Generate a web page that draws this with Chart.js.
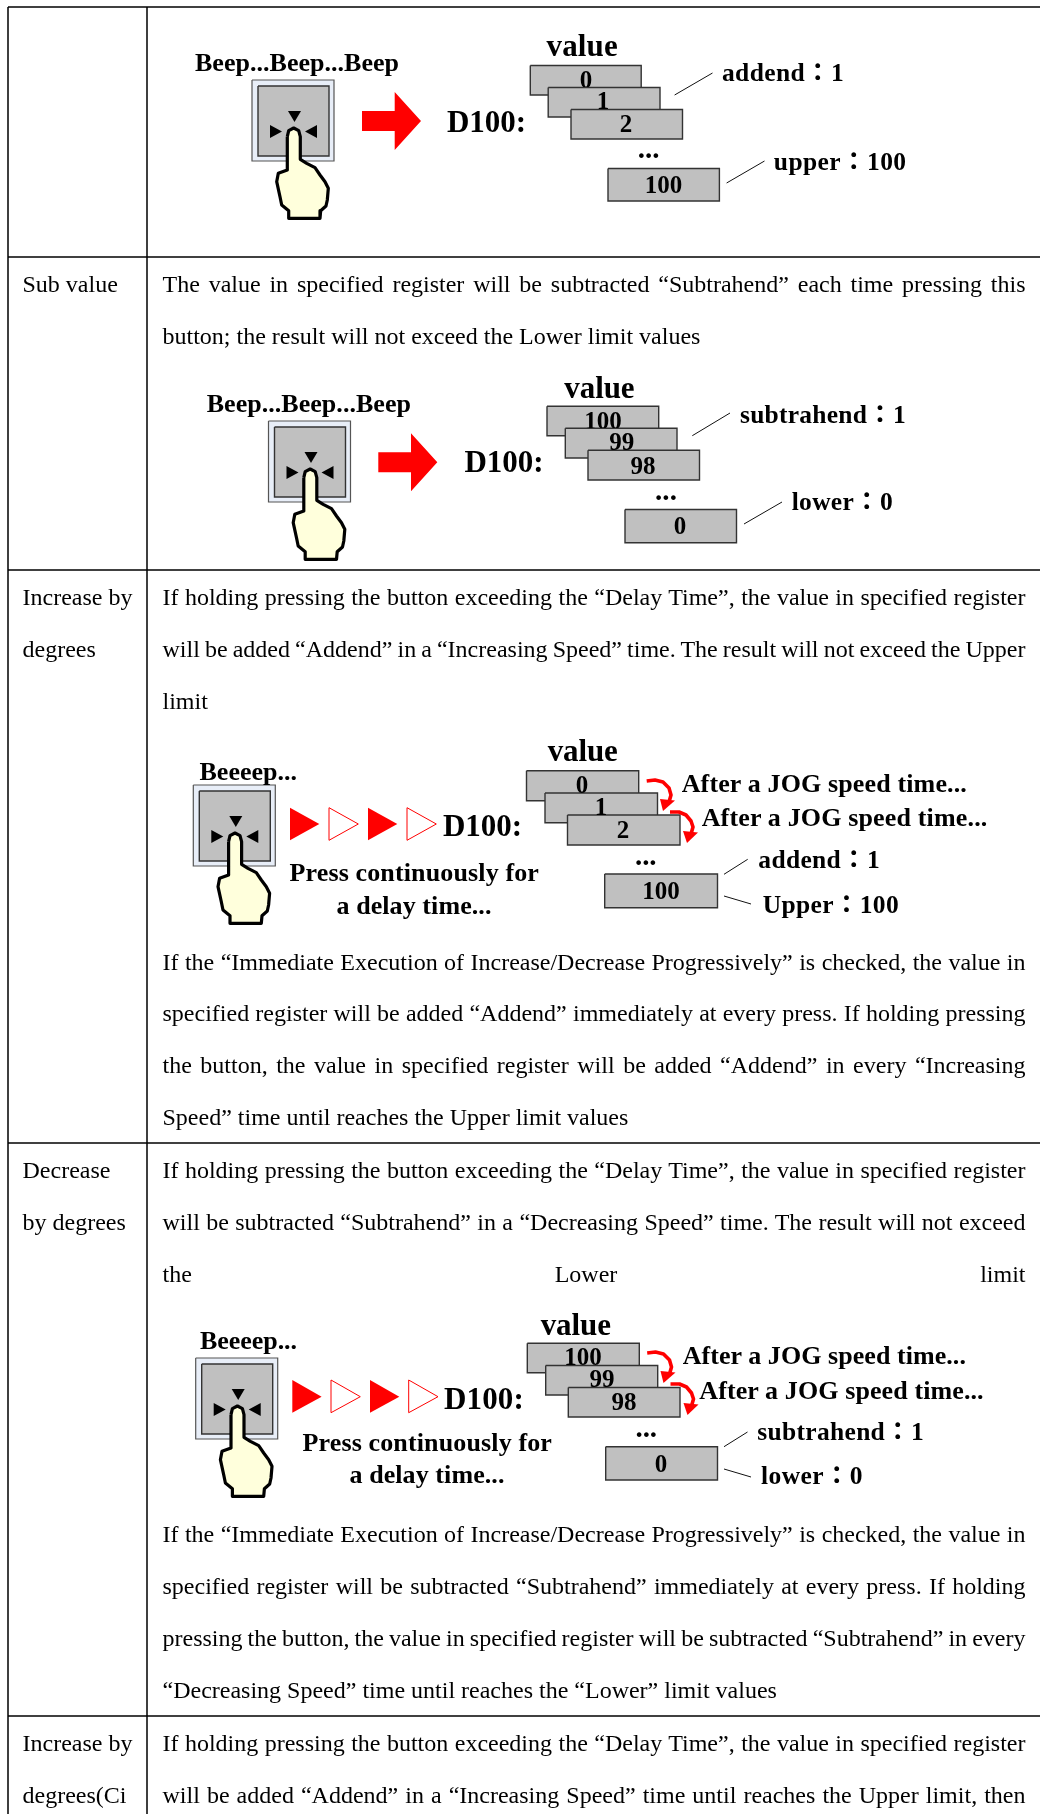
<!DOCTYPE html>
<html>
<head>
<meta charset="utf-8">
<title>Button table</title>
<script src="https://cdn.jsdelivr.net/npm/chart.js@4"></script>
<style>
  html, body { margin: 0; background: #fff; overflow: hidden; }
  #page { position: relative; width: 1040px; height: 1814px; }
  #sheet { position: absolute; left: 0; top: 0; }
  .t { position: absolute; white-space: nowrap; color: #000; font-family: "Liberation Serif", "Noto Sans CJK TC", serif; }
  .b { font-weight: bold; color: #000; }
</style>
</head>
<body>
<div id="page"><canvas id="sheet" width="1040" height="1814"></canvas></div>
<script>
// text of the table
const rowLabels = ["Sub value", "Increase by", "degrees", "Decrease", "by degrees", "Increase by", "degrees(Ci"];
const bodyLines = [
  "The value in specified register will be subtracted “Subtrahend” each time pressing this",
  "button; the result will not exceed the Lower limit values",
  "If holding pressing the button exceeding the “Delay Time”, the value in specified register",
  "will be added “Addend” in a “Increasing Speed” time. The result will not exceed the Upper",
  "limit",
  "If the “Immediate Execution of Increase/Decrease Progressively” is checked, the value in",
  "specified register will be added “Addend” immediately at every press. If holding pressing",
  "the button, the value in specified register will be added “Addend” in every “Increasing",
  "Speed” time until reaches the Upper limit values",
  "If holding pressing the button exceeding the “Delay Time”, the value in specified register",
  "will be subtracted “Subtrahend” in a “Decreasing Speed” time. The result will not exceed",
  "the Lower limit",
  "If the “Immediate Execution of Increase/Decrease Progressively” is checked, the value in",
  "specified register will be subtracted “Subtrahend” immediately at every press. If holding",
  "pressing the button, the value in specified register will be subtracted “Subtrahend” in every",
  "“Decreasing Speed” time until reaches the “Lower” limit values",
  "If holding pressing the button exceeding the “Delay Time”, the value in specified register",
  "will be added “Addend” in a “Increasing Speed” time until reaches the Upper limit, then"
];
const unjustified = [1, 4, 8, 15];
const addValues = ["0", "1", "2", "100"];
const subValues = ["100", "99", "98", "0"];

// positions on the page, in the units of the chart scales
const tableTop = 7;
const columnEdges = [8, 147];
const rowEdges = [7, 257, 570, 1143, 1716];
const labelY = [285, 597.7, 649.7, 1170.2, 1222.2, 1743.7, 1795.7];
const bodyY = [285, 337, 597.7, 649.7, 701.7, 963, 1014, 1065.7, 1118, 1170.2, 1222.2, 1274.2, 1534.7, 1586.7, 1638.7, 1690.7, 1743.7, 1795.7];

const handOutline = [[35.3,56.7],[36.7,50.7],[41.7,48],[46.7,50.7],[48.3,56.7],[48.3,79.3],[54.7,83.3],[63,87.7],[68,95],[73,101.7],[76.3,108.3],[75.3,120],[74,126],[68.7,130.7],[68,138.3],[36.7,138.3],[36.7,130.7],[29.7,125],[28,116.7],[24.7,101.7],[26.3,93.3],[35.3,90]];

const datasets = [];
const textLayer = document.getElementById("page");

function shape(points, fill, stroke, width, join) {
  const closed = !!fill;
  const pts = points.map(p => ({ x: p[0], y: p[1] }));
  if (closed) pts.push(pts[0]);
  datasets.push({
    data: pts,
    showLine: true,
    pointRadius: 0,
    fill: closed ? "shape" : false,
    backgroundColor: fill || "transparent",
    borderColor: stroke || fill || "transparent",
    borderWidth: stroke ? width : 0,
    borderJoinStyle: join || "miter",
    tension: 0
  });
}
const rect = (x0, y0, x1, y1, fill, stroke, width) =>
  shape([[x0,y0],[x1,y0],[x1,y1],[x0,y1]], fill, stroke, width);
const line = (x0, y0, x1, y1, width) => shape([[x0,y0],[x1,y1]], null, "#111", width || 1);

function label(str, x, y, size, opts) {
  opts = opts || {};
  y += opts.plain ? -0.6 : 0.7;
  const el = document.createElement("div");
  el.className = "t" + (opts.plain ? "" : " b");
  el.textContent = str;
  el.style.fontSize = size + "px";
  el.style.lineHeight = "40px";
  el.style.top = (y - 20) + "px";
  textLayer.appendChild(el);
  const w = el.getBoundingClientRect().width;
  if (opts.to) {
    el.style.letterSpacing = ((opts.to - x - w) / str.length) + "px";
    el.style.left = x + "px";
  } else if (opts.center) {
    el.style.left = (x - w / 2) + "px";
  } else {
    el.style.left = x + "px";
  }
  if (opts.clipAt) el.style.clipPath = "inset(0 -5px " + (y + 20 - opts.clipAt) + "px -5px)";
  return el;
}

function pressButton(ox, oy) {
  rect(ox, oy, ox + 82, oy + 81, "#e8eef8", "#555", 1.2);
  rect(ox + 6, oy + 6, ox + 77, oy + 76, "#c0c0c0", "#333", 1.4);
  shape([[ox+36,oy+31],[ox+49,oy+31],[ox+42.5,oy+42]], "#000");
  shape([[ox+18,oy+45],[ox+18,oy+58],[ox+30,oy+51.5]], "#000");
  shape([[ox+65,oy+45],[ox+65,oy+58],[ox+53,oy+51.5]], "#000");
  shape(handOutline.map(p => [ox + p[0], oy + p[1]]), "#ffffdc", "#000", 3.2, "round");
}

// boxes: [x0, y0, x1, y1] in paint order, digits: [cx, cy, clip]
function registerStack(values, boxes, digits) {
  boxes.forEach(b => rect(b[0], b[1], b[2], b[3], "#c0c0c0", "#333", 1.4));
  values.forEach((v, i) => label(v, digits[i][0], digits[i][1], 25, { center: true, clipAt: digits[i][2] }));
}

function jogArrows(dx, dy) {
  const a = [[646.7,781],[655,780],[663,782],[669,788],[671,795],[669,802]];
  const h = [[660,799],[675,800.5],[663,811]];
  const b = [[670,812],[679,812],[686,815],[691,821],[693,827],[691,834]];
  const k = [[683,831],[698,832.5],[687,843]];
  [a, b].forEach(s => shape(s.map(p => [p[0]+dx, p[1]+dy]), null, "#ff0000", 3.6, "round"));
  [h, k].forEach(s => shape(s.map(p => [p[0]+dx, p[1]+dy]), "#ff0000"));
}

function blinkArrows(xs, y0, ym, y1) {
  xs.forEach((x, i) => {
    const pts = [[x, y0], [x + 29.3, ym], [x, y1]];
    if (i % 2 === 0) shape(pts, "#ff0000");
    else shape(pts, "#ffffff", "#ff0000", 1);
  });
}

function bigArrow(dx, dy) {
  shape([[362,111],[394.7,111],[394.7,92],[421,121],[394.7,150],[394.7,131],[362,131]].map(p => [p[0]+dx, p[1]+dy]), "#ff0000");
}

// table rules
columnEdges.forEach(x => shape([[x, tableTop], [x, 1814]], null, "#000", 1.5));
rowEdges.forEach(y => shape([[columnEdges[0], y], [1040, y]], null, "#000", 1.5));

// row 1: add value
label("Beep...Beep...Beep", 195, 62, 26, { to: 399 });
pressButton(252, 80);
bigArrow(0, 0);
label("D100:", 447, 121, 31, { to: 526 });
label("value", 546.5, 45, 31, { to: 617.8 });
registerStack(addValues,
  [[530.3,65.5,641.2,95],[548.2,87.5,660,117],[571,109.5,682.5,139],[608,168.5,719.4,201]],
  [[586,79,87],[603,100,109],[626,123],[663.6,184]]);
label("...", 637.7, 147, 29, { to: 659.5 });
label("addend：1", 722, 72, 25.5, { to: 844 });
label("upper：100", 773.8, 161, 25.5, { to: 906.5 });
line(674.6, 95, 712.5, 73);
line(726.6, 183, 764.5, 161);

// row 2: sub value
label("Beep...Beep...Beep", 206.7, 403, 26, { to: 411 });
pressButton(268.5, 421);
bigArrow(16.3, 341.3);
label("D100:", 464.5, 461.7, 31, { to: 543.5 });
label("value", 564.3, 387, 31, { to: 634.5 });
registerStack(subValues,
  [[547,406.3,658.7,435.7],[565.3,428.3,677,458],[588,450.3,699.5,480],[625,509.5,736.5,542.7]],
  [[603,420,428],[621.7,441,450],[643,465],[680,525]]);
label("...", 655, 489, 29, { to: 677 });
label("subtrahend：1", 740, 414, 25.5, { to: 906 });
label("lower：0", 791.7, 501.7, 25.5, { to: 893 });
line(692.3, 435.7, 730, 413);
line(744, 524, 782, 502);

// row 3: increase by degrees
label("Beeeep...", 199.5, 771.6, 26, { to: 297 });
pressButton(193.3, 785);
blinkArrows([290, 329, 368, 407], 807.7, 824, 840.3);
label("D100:", 443, 825, 31, { to: 522 });
label("Press continuously for", 289.5, 872.7, 26, { to: 539 });
label("a delay time...", 336.5, 905, 26, { to: 491.5 });
label("value", 547.7, 750.7, 31, { to: 617.7 });
registerStack(addValues,
  [[526.5,770.7,638.7,800.7],[545,793,657.5,822.7],[567.5,815,680,845],[604.7,874,717.5,907.7]],
  [[582,784,793],[601,806,815],[623,829],[661,890.7]]);
jogArrows(0, 0);
label("...", 635, 854, 29, { to: 656.5 });
label("After a JOG speed time...", 681.7, 783, 26, { to: 967 });
label("After a JOG speed time...", 701.7, 817, 26, { to: 987.5 });
label("addend：1", 758.3, 859.3, 25.5, { to: 880 });
label("Upper：100", 762.7, 904, 25.5, { to: 899 });
line(724, 874.3, 747.7, 859.3);
line(724, 896, 751, 904);

// row 4: decrease by degrees
label("Beeeep...", 200, 1340, 26, { to: 297 });
pressButton(195.7, 1358);
blinkArrows([292.3, 331, 370, 408.7], 1380, 1396.7, 1412.7);
label("D100:", 444, 1398.6, 31, { to: 524 });
label("Press continuously for", 302.5, 1442.6, 26, { to: 552 });
label("a delay time...", 349.5, 1474, 26, { to: 504.5 });
label("value", 540.7, 1324, 31, { to: 611 });
registerStack(subValues,
  [[527.3,1343.3,639.3,1372.7],[545.7,1365.5,657.7,1395],[568.3,1387.5,680,1417],[605.7,1446.7,717.5,1480]],
  [[583,1356,1365],[602,1378,1387.5],[624,1401.7],[661,1463]]);
jogArrows(0.5, 572);
label("...", 635.5, 1426, 29, { to: 657 });
label("After a JOG speed time...", 682.7, 1355.7, 26, { to: 966 });
label("After a JOG speed time...", 699.3, 1390, 26, { to: 983.7 });
label("subtrahend：1", 757.3, 1431.7, 25.5, { to: 924 });
label("lower：0", 761, 1475.7, 25.5, { to: 863 });
line(724, 1446.7, 747.5, 1432);
line(724, 1469, 751, 1477);

// table text, justified lines get their word gaps fitted to the cell
rowLabels.forEach((s, i) => label(s, 22.5, labelY[i], 24, { plain: true }));
bodyLines.forEach((s, i) => {
  const el = label(s, 162.5, bodyY[i], 24, { plain: true });
  if (!unjustified.includes(i)) {
    const gaps = s.split(" ").length - 1;
    el.style.wordSpacing = ((1025.5 - 162.5 - el.getBoundingClientRect().width) / gaps) + "px";
  }
});

// first dataset paints on top in Chart.js, so hand them over reversed
new Chart(document.getElementById("sheet"), {
  type: "scatter",
  data: { datasets: datasets.slice().reverse() },
  options: {
    responsive: false,
    animation: false,
    events: [],
    layout: { padding: 0 },
    plugins: { legend: false, tooltip: { enabled: false } },
    scales: {
      x: { type: "linear", display: false, min: 0, max: 1040 },
      y: { type: "linear", display: false, reverse: true, min: 0, max: 1814 }
    }
  }
});
</script>
</body>
</html>
